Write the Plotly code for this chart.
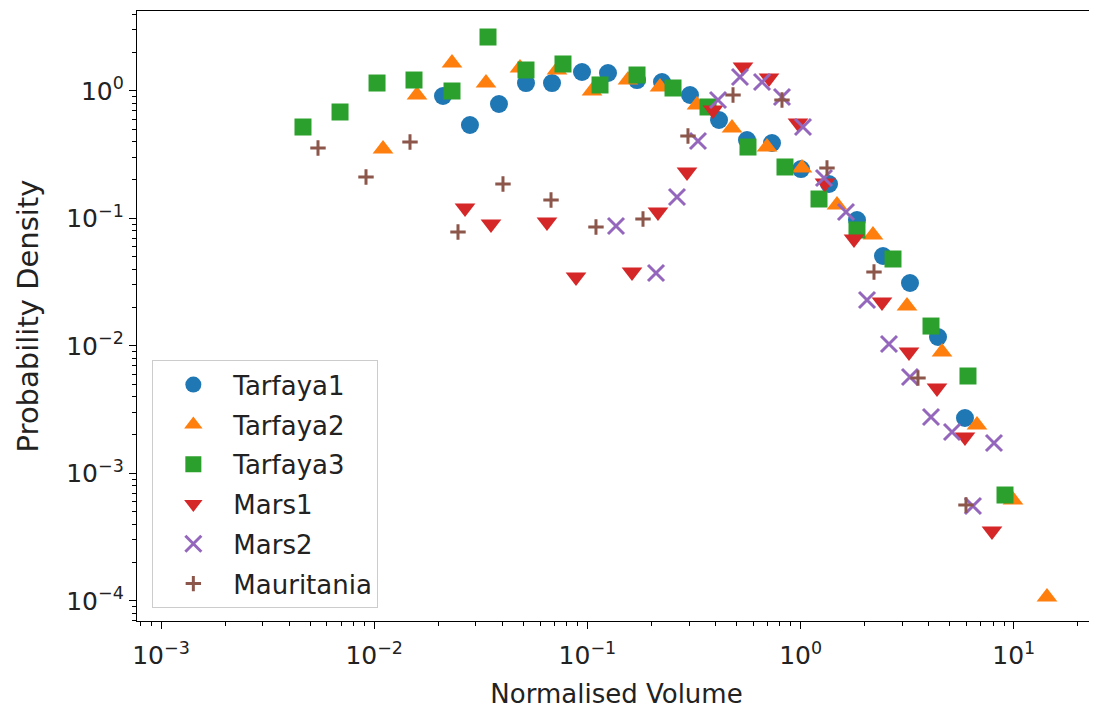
import plotly.graph_objects as go

# ---- data (log-log scatter) ----
tarfaya1_x = [0.02102, 0.02813, 0.03848, 0.05152, 0.06823, 0.09434, 0.1249, 0.1709, 0.2238, 0.3028,
              0.4144, 0.5605, 0.7342, 1.0043, 1.359, 1.8385, 2.4348, 3.2593, 4.4108, 5.9023]
tarfaya1_y = [0.9104, 0.5391, 0.7879, 1.151, 1.151, 1.404, 1.379, 1.215, 1.172, 0.927,
              0.5902, 0.4112, 0.3896, 0.2435, 0.1858, 0.09697, 0.05062, 0.03109, 0.01172, 0.002715]

tarfaya2_x = [0.011, 0.01588, 0.02317, 0.03345, 0.04829, 0.072, 0.1051, 0.155, 0.219, 0.3266,
              0.4768, 0.6957, 1.0152, 1.4814, 2.1855, 3.1557, 4.6052, 6.7193, 9.9129, 14.31]
tarfaya2_y = [0.3494, 0.927, 1.652, 1.151, 1.51, 1.456, 0.9964, 1.215, 1.071, 0.7738,
              0.5108, 0.3623, 0.248, 0.1271, 0.07396, 0.02052, 0.008943, 0.002392, 0.0006174, 0.0001071]

tarfaya3_x = [0.004634, 0.006914, 0.01031, 0.01537, 0.02317, 0.03418, 0.05152, 0.07683, 0.1146, 0.1709,
              0.2521, 0.3679, 0.5666, 0.8449, 1.2199, 1.8385, 2.7125, 4.0895, 6.097, 9.094]
tarfaya3_y = [0.52, 0.682, 1.151, 1.215, 0.9964, 2.642, 1.456, 1.623, 1.111, 1.33,
              1.052, 0.7465, 0.3623, 0.2526, 0.1417, 0.08095, 0.04795, 0.01429, 0.005796, 0.0006757]

mars1_x = [0.02667, 0.0353, 0.06463, 0.08843, 0.1619, 0.2143, 0.2932, 0.3884, 0.5368, 0.7109,
           0.9723, 1.3014, 1.7801, 2.4086, 3.2242, 4.3633, 5.9023, 7.9019]
mars1_y = [0.1204, 0.09022, 0.09354, 0.03464, 0.03792, 0.112, 0.2307, 0.7068, 1.537, 1.26,
           0.5592, 0.1891, 0.06879, 0.02205, 0.008943, 0.004667, 0.001926, 0.0003527]

mars2_x = [0.1362, 0.2098, 0.2632, 0.3302, 0.4099, 0.5196, 0.6592, 0.818, 1.0263, 1.2874,
           1.6327, 2.0489, 2.5976, 3.2593, 4.0895, 5.131, 6.4345, 8.0749]
mars2_y = [0.08702, 0.03724, 0.1469, 0.4039, 0.8468, 1.283, 1.172, 0.894, 0.52, 0.207,
           0.112, 0.02286, 0.01033, 0.00569, 0.002764, 0.002108, 0.000554, 0.001729]

mauritania_x = [0.00545, 0.009152, 0.01472, 0.02472, 0.04018, 0.06751, 0.1097, 0.1823, 0.2963, 0.482,
                0.818, 1.3299, 2.2093, 3.5529, 5.9665]
mauritania_y = [0.3558, 0.2108, 0.3967, 0.07808, 0.1858, 0.1392, 0.08547, 0.09874, 0.4421, 0.927,
                0.8468, 0.248, 0.03792, 0.00559, 0.0005641]

series_names = ["Tarfaya1", "Tarfaya2", "Tarfaya3", "Mars1", "Mars2", "Mauritania"]
x_title = "Normalised Volume"
y_title = "Probability Density"

x_tick_exps = [-3, -2, -1, 0, 1]
y_tick_exps = [-4, -3, -2, -1, 0]

# ---- styling ----
colors = ["#1f77b4", "#ff7f0e", "#2ca02c", "#d62728", "#9467bd", "#8c564b"]
symbols = ["circle", "triangle-up", "square", "triangle-down", "x-thin", "cross-thin"]
sizes = [18, 18, 17, 18, 16, 11]

data = [(tarfaya1_x, tarfaya1_y), (tarfaya2_x, tarfaya2_y), (tarfaya3_x, tarfaya3_y),
        (mars1_x, mars1_y), (mars2_x, mars2_y), (mauritania_x, mauritania_y)]

fig = go.Figure()
for i, (name, (xs, ys)) in enumerate(zip(series_names, data)):
    thin = symbols[i].endswith("-thin")
    marker = dict(symbol=symbols[i], size=sizes[i], color=colors[i])
    if thin:
        marker["line"] = dict(color=colors[i], width=3)
    else:
        marker["line"] = dict(width=0)
    fig.add_trace(go.Scatter(x=xs, y=ys, mode="markers", name=name, marker=marker,
                             legendgroup=name))

font_family = "DejaVu Sans"
tick_font = dict(family=font_family, size=25, color="#222")


def decade_ticks(exps):
    vals = [10.0 ** e for e in exps]
    texts = ["10<sup>%s</sup>" % (str(e).replace("-", "\u2212")) for e in exps]
    return vals, texts


def minor_vals(lo, hi):
    return [m * 10.0 ** e for e in range(lo, hi + 1) for m in range(2, 10)]


def axis_style(exps, lo, hi):
    vals, texts = decade_ticks(exps)
    return dict(
        type="log", showgrid=False, zeroline=False, showline=True, linecolor="black",
        linewidth=1.3, mirror=True, ticks="outside", ticklen=7, tickwidth=1.3, tickcolor="black",
        tickmode="array", tickvals=vals, ticktext=texts, tickfont=tick_font, automargin=False,
        minor=dict(ticks="outside", ticklen=4, tickwidth=1, tickcolor="black",
                   tickmode="array", tickvals=minor_vals(lo, hi), showgrid=False),
    )


fig.update_xaxes(**axis_style(x_tick_exps, -4, 1), range=[-3.1126, 1.3856], ticklabelstandoff=5,
                 title=dict(text=x_title, font=dict(family=font_family, size=26, color="#222"), standoff=15))
fig.update_yaxes(**axis_style(y_tick_exps, -5, 0), range=[-4.1584, 0.6259],
                 title=dict(text=y_title, font=dict(family=font_family, size=29, color="#222"), standoff=19))

# the page body adds an 8px offset, so the figure is 8px smaller than the window
fig.update_layout(
    width=1089, height=707,
    margin=dict(l=129, r=1, t=3, b=94, autoexpand=False),
    plot_bgcolor="white", paper_bgcolor="white",
    showlegend=True,
    legend=dict(x=0.016, y=0.021, xanchor="left", yanchor="bottom",
                bordercolor="#cccccc", borderwidth=1, bgcolor="rgba(255,255,255,0.8)",
                font=dict(family=font_family, size=26, color="#222"),
                tracegroupgap=3, itemwidth=70),
)

fig.write_html("out.html")
